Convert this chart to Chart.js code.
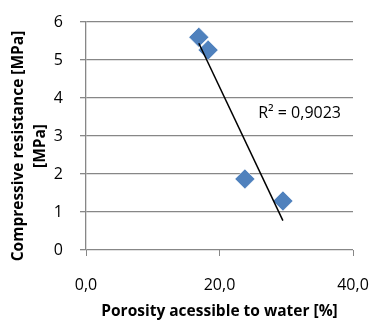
<!DOCTYPE html>
<html><head><meta charset="utf-8">
<script src="https://cdn.jsdelivr.net/npm/chart.js@4"></script>
<style>html,body{margin:0;padding:0;background:#fff}canvas{display:block}</style>
</head><body>
<canvas id="c" width="372" height="320"></canvas>
<script>
const porosity = [16.9, 18.3, 23.8, 29.5];
const resistance = [5.6, 5.26, 1.87, 1.29];
const xTicks = [0, 20, 40];
const yTicks = [0, 1, 2, 3, 4, 5, 6];
const r2Label = 'R² = 0,9023';
const r2Pos = {x: 25.8, y: 3.6};
const xTitle = 'Porosity acessible to water [%]';
const yTitle = ['Compressive resistance [MPa]', '[MPa]'];

// least squares linear trend computed from the data
const n = porosity.length;
const mx = porosity.reduce((a, b) => a + b, 0) / n;
const my = resistance.reduce((a, b) => a + b, 0) / n;
let sxy = 0, sxx = 0;
for (let i = 0; i < n; i++) { sxy += (porosity[i] - mx) * (resistance[i] - my); sxx += (porosity[i] - mx) ** 2; }
const slope = sxy / sxx, icpt = my - slope * mx;
const xmin = Math.min(...porosity), xmax = Math.max(...porosity);
const trend = [{x: xmin, y: icpt + slope * xmin}, {x: xmax, y: icpt + slope * xmax}];

const FONT = "'Open Sans', sans-serif";
const GRID = '#878787';

const textPlugin = {
  id: 'texts',
  afterDatasetsDraw(chart) {
    const {ctx, scales} = chart;
    ctx.save();
    ctx.font = "16px " + FONT;
    ctx.fillStyle = '#000';
    ctx.textBaseline = 'middle';
    ctx.textAlign = 'left';
    ctx.fillText(r2Label, scales.x.getPixelForValue(r2Pos.x), scales.y.getPixelForValue(r2Pos.y));
    ctx.restore();
  },
  afterDraw(chart) {
    const ctx = chart.ctx;
    ctx.save();
    ctx.font = "bold 15.5px " + FONT;
    ctx.fillStyle = '#000';
    ctx.textBaseline = 'middle';
    ctx.textAlign = 'center';
    ctx.translate(19, 146);
    ctx.rotate(-Math.PI / 2);
    ctx.fillText(yTitle[0], 0, 0);
    ctx.fillText(yTitle[1], 0, 22);
    ctx.restore();
  }
};

new Chart(document.getElementById('c'), {
  type: 'scatter',
  data: {
    datasets: [
      {
        type: 'line', data: trend, borderColor: '#000', borderWidth: 1.5,
        pointRadius: 0, fill: false, order: 0
      },
      {
        data: porosity.map((x, i) => ({x, y: resistance[i]})),
        pointStyle: 'rectRot', pointRadius: 10, pointHoverRadius: 10,
        backgroundColor: '#4F81BD', borderColor: '#ffffff', borderWidth: 0.6, order: 1
      }
    ]
  },
  options: {
    responsive: false, animation: false, devicePixelRatio: 1,
    layout: {padding: {top: 22, right: 19, left: 0, bottom: 0}},
    plugins: {legend: {display: false}, tooltip: {enabled: false}},
    scales: {
      x: {
        type: 'linear', min: 0, max: 40,
        afterBuildTicks: s => { s.ticks = xTicks.map(v => ({value: v})); },
        afterFit: s => { s.height = 70; s.paddingLeft = 0; s.paddingRight = 0; },
        ticks: {font: {family: FONT, size: 16}, color: '#000', padding: 20, maxRotation: 0,
          callback: v => v.toFixed(1).replace('.', ',')},
        grid: {drawOnChartArea: false, drawTicks: true, tickLength: 6, color: GRID},
        border: {display: false},
        title: {display: true, text: xTitle, font: {family: FONT, size: 15.5, weight: 'bold', lineHeight: 1}, color: '#000', padding: {top: 0, bottom: 0.5}}
      },
      y: {
        min: 0, max: 6,
        afterBuildTicks: s => { s.ticks = yTicks.map(v => ({value: v})); },
        afterFit: s => { s.width = 86; s.paddingTop = 0; s.paddingBottom = 0; },
        ticks: {font: {family: FONT, size: 16}, color: '#000', padding: 17},
        grid: {color: GRID, lineWidth: 1.3, tickLength: 6},
        border: {display: true, color: GRID, width: 1.3},
        title: {display: false}
      }
    }
  },
  plugins: [textPlugin]
});
</script>
</body></html>
